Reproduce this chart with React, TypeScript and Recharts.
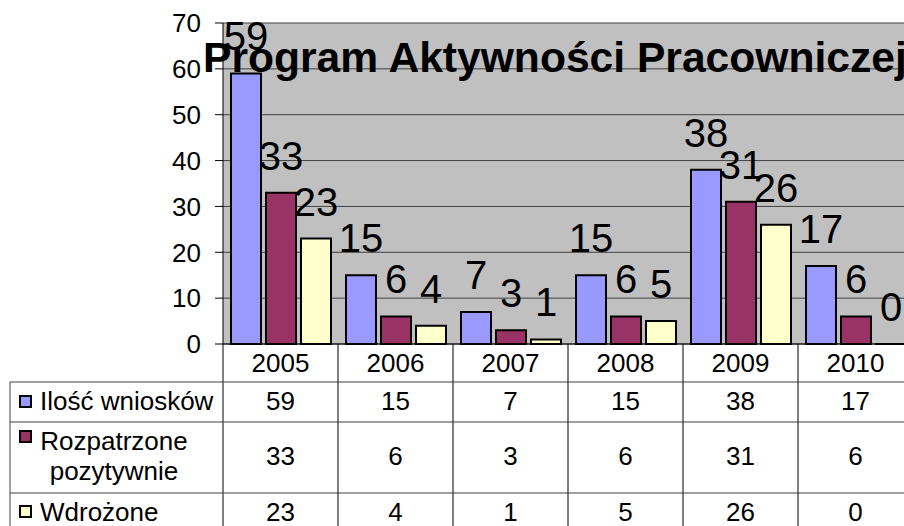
import React from "react";
import { BarChart, Bar, XAxis, YAxis, CartesianGrid, LabelList } from "recharts";

const years = ["2005", "2006", "2007", "2008", "2009", "2010"];
const wnioski = [59, 15, 7, 15, 38, 17];
const pozytywne = [33, 6, 3, 6, 31, 6];
const wdrozone = [23, 4, 1, 5, 26, 0];
const yTicks = [0, 10, 20, 30, 40, 50, 60, 70];

const title = "Program Aktywności Pracowniczej";
const colors = ["#9999FF", "#993366", "#FFFFCC"];

const data = years.map((year, i) => ({
  year,
  wnioski: wnioski[i],
  pozytywne: pozytywne[i],
  wdrozone: wdrozone[i],
}));

const FONT = '"Liberation Sans", Arial, sans-serif';

const CHART_W = 930;
const CHART_H = 560;
const Y_W = 223;
const MARGIN = { top: 23, right: 17, left: 0, bottom: 16 };
const BAND = (CHART_W - MARGIN.left - MARGIN.right - Y_W) / years.length;

// table rows, offsets measured from the x axis line
const rows = [wnioski, pozytywne, wdrozone];
const rowLines = [38, 78, 149, 190];
const rowBase = [66, 121, 177];

const RowHeads = ({ left, y }: { left: number; y: number }) => {
  const tl = 10;
  return (
    <g>
      <line x1={tl} x2={tl} y1={y + 38} y2={y + 200} stroke="#404040" />
      {rowLines.map((e) => (
        <line key={e} x1={tl} x2={left} y1={y + e} y2={y + e} stroke="#404040" />
      ))}
      <rect x={20} y={y + 52} width={11} height={11} fill={colors[0]} stroke="#000" strokeWidth={2} />
      <text x={40} y={y + rowBase[0]}>Ilość wniosków</text>
      <rect x={20} y={y + 87} width={11} height={11} fill={colors[1]} stroke="#000" strokeWidth={2} />
      <text x={114} y={y + 106} textAnchor="middle">Rozpatrzone</text>
      <text x={114} y={y + 136} textAnchor="middle">pozytywnie</text>
      <rect x={20} y={y + 162} width={11} height={11} fill={colors[2]} stroke="#000" strokeWidth={2} />
      <text x={40} y={y + rowBase[2]}>Wdrożone</text>
    </g>
  );
};

const TableTick = (props: any) => {
  const { x, y, index, payload } = props;
  const left = x - BAND / 2;
  const right = x + BAND / 2;
  return (
    <g fontFamily={FONT} fontSize={26} fill="#000">
      <line x1={left} x2={left} y1={y} y2={y + 200} stroke="#000" />
      {index === years.length - 1 && (
        <line x1={right} x2={right} y1={y} y2={y + 200} stroke="#000" />
      )}
      {rowLines.map((e) => (
        <line key={e} x1={left} x2={right} y1={y + e} y2={y + e} stroke="#404040" />
      ))}
      <text x={x} y={y + 28} textAnchor="middle">
        {payload.value}
      </text>
      {rows.map((r, k) => (
        <text key={k} x={x} y={y + rowBase[k]} textAnchor="middle">
          {r[index]}
        </text>
      ))}
      {index === 0 && <RowHeads left={left} y={y} />}
    </g>
  );
};

const labelProps = {
  position: "top" as const,
  offset: 23,
  fontSize: 40,
  fill: "#000",
  fontFamily: FONT,
};

// keep zero bars in the layout so their "0" label is still drawn
const zeroBar = (v: any) => (v === 0 ? 0.01 : 0);

export default function App() {
  return (
    <div
      style={{
        position: "absolute",
        left: 0,
        top: 0,
        width: 904,
        height: 526,
        overflow: "hidden",
        background: "#fff",
      }}
    >
      <BarChart
        width={CHART_W}
        height={CHART_H}
        data={data}
        margin={MARGIN}
        barSize={30}
        barGap={5}
      >
        <CartesianGrid vertical={false} fill="#C0C0C0" stroke="#404040" fillOpacity={1} />
        <XAxis
          dataKey="year"
          height={200}
          tickSize={0}
          tickMargin={0}
          tickLine={false}
          axisLine={{ stroke: "#000" }}
          tick={<TableTick />}
          interval={0}
        />
        <YAxis
          width={Y_W}
          domain={[0, 70]}
          ticks={yTicks}
          interval={0}
          tickSize={8}
          tickMargin={14}
          axisLine={{ stroke: "#000" }}
          tickLine={{ stroke: "#000" }}
          tick={{ fill: "#000", fontSize: 26, fontFamily: FONT }}
        />
        <Bar dataKey="wnioski" fill={colors[0]} stroke="#000" strokeWidth={2} minPointSize={zeroBar} isAnimationActive={false}>
          <LabelList dataKey="wnioski" {...labelProps} />
        </Bar>
        <Bar dataKey="pozytywne" fill={colors[1]} stroke="#000" strokeWidth={2} minPointSize={zeroBar} isAnimationActive={false}>
          <LabelList dataKey="pozytywne" {...labelProps} />
        </Bar>
        <Bar dataKey="wdrozone" fill={colors[2]} stroke="#000" strokeWidth={2} minPointSize={zeroBar} isAnimationActive={false}>
          <LabelList dataKey="wdrozone" {...labelProps} />
        </Bar>
        <text x={203} y={72} fontSize={42.6} fontWeight="bold" fontFamily={FONT} fill="#000">
          {title}
        </text>
      </BarChart>
    </div>
  );
}
